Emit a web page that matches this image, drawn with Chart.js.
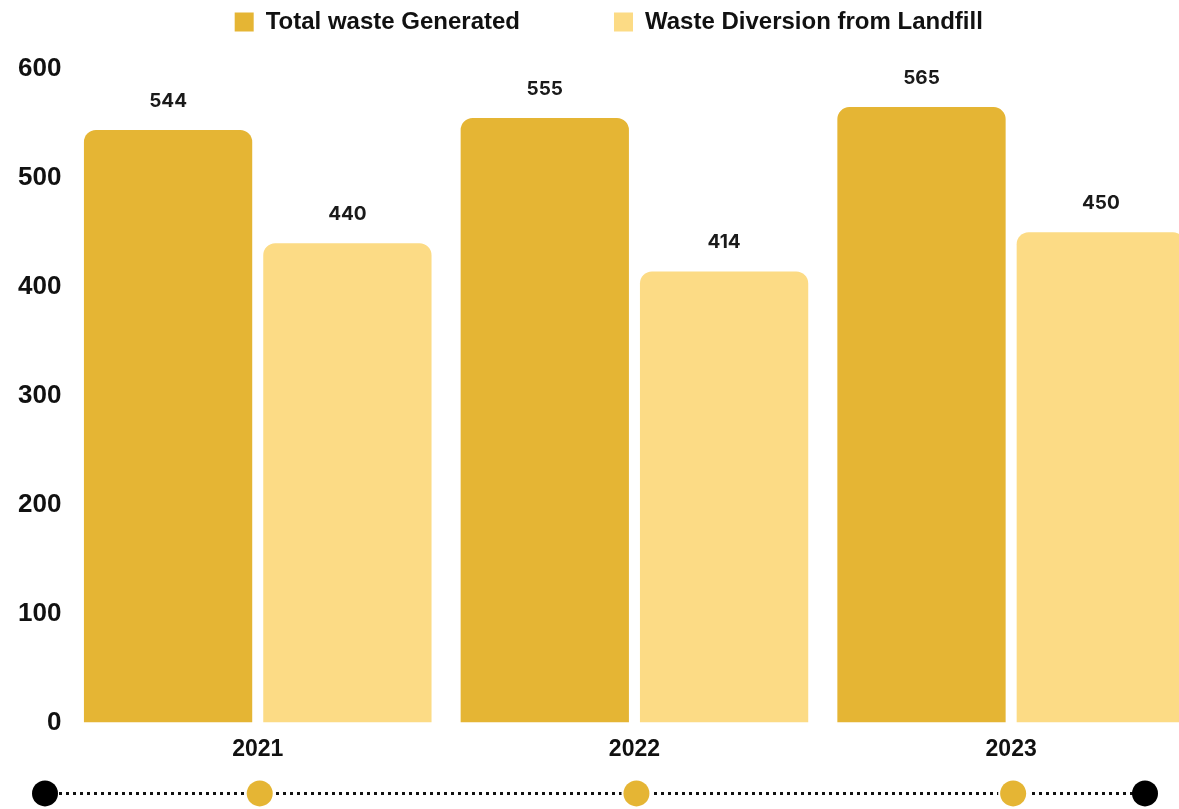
<!DOCTYPE html>
<html>
<head>
  <title>Waste chart</title>
  <meta charset="utf-8">
  <script src="https://cdn.jsdelivr.net/npm/chart.js@4.4.1/dist/chart.umd.min.js"></script>
  <style>
    html, body { margin: 0; padding: 0; background: #fff; overflow: hidden; }
    #wrap { width: 1201px; height: 809px; }
  </style>
</head>
<body>
  <div id="wrap"><canvas id="bar-chart"></canvas></div>

<script>
  // data
  var years = ["2021", "2022", "2023"];
  var totalWaste = [544, 555, 565];
  var diverted = [440, 414, 450];
  var yTicks = [0, 100, 200, 300, 400, 500, 600];

  var DARK = "#E5B534";
  var LIGHT = "#FCDB85";
  var FONT = "'Liberation Sans', Arial, sans-serif";

  // push the plot down a bit below the legend
  var legendGap = {
    id: 'legendGap',
    beforeInit: function (chart) {
      var fit = chart.legend.fit;
      chart.legend.fit = function () {
        fit.bind(chart.legend)();
        this.height += 25;
      };
    }
  };

  // numbers above every bar
  var valueLabels = {
    id: 'valueLabels',
    afterDatasetsDraw: function (chart) {
      var ctx = chart.ctx;
      ctx.save();
      ctx.font = "700 19px Inter, sans-serif";
      ctx.fillStyle = "#1a1a1a";
      ctx.textAlign = "center";
      ctx.textBaseline = "middle";
      chart.data.datasets.forEach(function (ds, i) {
        chart.getDatasetMeta(i).data.forEach(function (bar, j) {
          ctx.fillText(ds.data[j], bar.x, bar.y - 29);
        });
      });
      ctx.restore();
    }
  };

  // dotted timeline under the axis
  var timeline = {
    id: 'timeline',
    afterDraw: function (chart) {
      var ctx = chart.ctx;
      var xs = chart.scales.x;
      var y = chart.chartArea.bottom + 71;
      var x0 = 45, x1 = chart.width - 56;
      ctx.save();
      ctx.strokeStyle = "#111";
      ctx.lineWidth = 3;
      ctx.setLineDash([3, 4]);
      ctx.beginPath();
      ctx.moveTo(x0, y);
      ctx.lineTo(x1, y);
      ctx.stroke();
      ctx.setLineDash([]);
      ctx.fillStyle = "#000";
      [x0, x1].forEach(function (x) {
        ctx.beginPath();
        ctx.arc(x, y, 13, 0, Math.PI * 2);
        ctx.fill();
      });
      ctx.fillStyle = DARK;
      years.forEach(function (yr, i) {
        var x = xs.getPixelForValue(i) + 2;
        ctx.strokeStyle = "#fff";
        ctx.lineWidth = 4;
        ctx.beginPath();
        ctx.arc(x, y, 13, 0, Math.PI * 2);
        ctx.stroke();
        ctx.fill();
      });
      ctx.restore();
    }
  };

  new Chart(document.getElementById("bar-chart"), {
    type: 'bar',
    data: {
      labels: years,
      datasets: [{
        label: "Total waste Generated",
        data: totalWaste,
        backgroundColor: DARK,
        borderRadius: { topLeft: 12, topRight: 12 },
        borderSkipped: 'bottom',
        categoryPercentage: 0.952,
        barPercentage: 0.9385
      }, {
        label: "Waste Diversion from Landfill",
        data: diverted,
        backgroundColor: LIGHT,
        borderRadius: { topLeft: 12, topRight: 12 },
        borderSkipped: 'bottom',
        categoryPercentage: 0.952,
        barPercentage: 0.9385
      }]
    },
    options: {
      responsive: true,
      maintainAspectRatio: false,
      animation: false,
      layout: { padding: { left: 18, right: 1.5, top: 0, bottom: 41 } },
      plugins: {
        tooltip: { enabled: false },
        legend: {
          position: 'top',
          labels: {
            color: "#111",
            font: { family: FONT, size: 24, weight: 'bold' },
            boxWidth: 19,
            boxHeight: 19,
            padding: 10,
            generateLabels: function (chart) {
              var items = Chart.defaults.plugins.legend.labels.generateLabels(chart);
              items.forEach(function (it, i) {
                if (i === 0) it.text = it.text + "\u2003\u2003\u2003\u2002";
              });
              return items;
            }
          }
        }
      },
      scales: {
        x: {
          grid: { display: false },
          border: { display: false },
          ticks: {
            color: "#111",
            padding: 5,
            font: { family: FONT, size: 23, weight: 'bold' }
          }
        },
        y: {
          min: 0,
          max: 600,
          afterBuildTicks: function (axis) {
            axis.ticks = yTicks.map(function (v) { return { value: v }; });
          },
          grid: { display: false },
          border: { display: false },
          ticks: {
            color: "#111",
            padding: 0,
            font: { family: FONT, size: 26, weight: 'bold' }
          }
        }
      }
    },
    plugins: [legendGap, valueLabels, timeline]
  });
</script>
</body>
</html>
